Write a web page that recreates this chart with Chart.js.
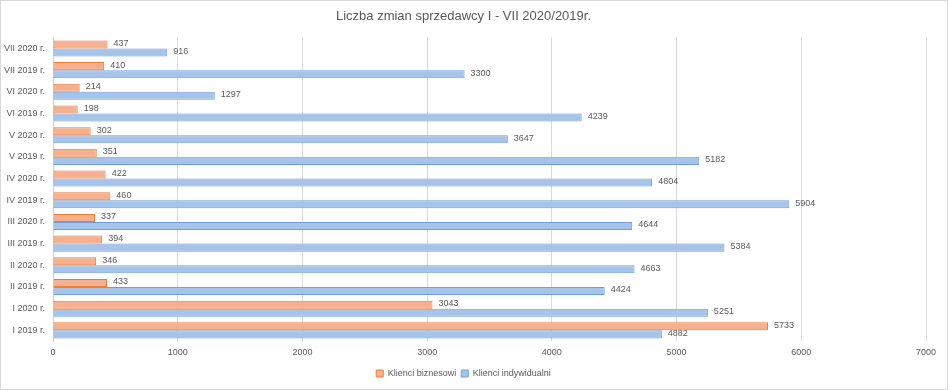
<!DOCTYPE html>
<html>
<head>
<meta charset="utf-8">
<script src="https://cdn.jsdelivr.net/npm/chart.js@4"></script>
<style>
    html, body { margin: 0; padding: 0; background: #ffffff; }
    #wrap { position: relative; width: 946px; height: 388px; border: 1px solid #d9d9d9; background: #ffffff; }
</style>
</head>
<body>
<div id="wrap"><canvas id="chart" width="946" height="388"></canvas></div>
<script>
// categories in sheet order (bottom to top on the chart)
const months = ['I 2019 r.', 'I 2020 r.', 'II 2019 r.', 'II 2020 r.', 'III 2019 r.', 'III 2020 r.',
    'IV 2019 r.', 'IV 2020 r.', 'V 2019 r.', 'V 2020 r.', 'VI 2019 r.', 'VI 2020 r.', 'VII 2019 r.', 'VII 2020 r.'];
const klienciBiznesowi = [5733, 3043, 433, 346, 394, 337, 460, 422, 351, 302, 198, 214, 410, 437];
const klienciIndywidualni = [4882, 5251, 4424, 4663, 5384, 4644, 5904, 4804, 5182, 3647, 4239, 1297, 3300, 916];
const xTicks = [0, 1000, 2000, 3000, 4000, 5000, 6000, 7000];

const textGray = '#595959';
const fontName = "'Liberation Sans', 'DejaVu Sans', sans-serif";

// value labels next to the end of each bar
const barLabels = {
    id: 'barLabels',
    afterDatasetsDraw(chart) {
        const ctx = chart.ctx;
        ctx.save();
        ctx.fillStyle = textGray;
        ctx.font = '9px ' + fontName;
        ctx.textAlign = 'left';
        ctx.textBaseline = 'middle';
        chart.data.datasets.forEach((ds, i) => {
            chart.getDatasetMeta(i).data.forEach((bar, j) => {
                ctx.fillText(String(ds.data[j]), bar.x + 6, bar.y - 1);
            });
        });
        ctx.restore();
    }
};

const ctx = document.getElementById('chart').getContext('2d');
new Chart(ctx, {
    type: 'bar',
    data: {
        labels: months,
        datasets: [
            {
                label: 'Klienci biznesowi',
                data: klienciBiznesowi,
                backgroundColor: '#f6b08f',
                borderColor: '#ed7d31',
                borderWidth: 1,
                borderSkipped: false
            },
            {
                label: 'Klienci indywidualni',
                data: klienciIndywidualni,
                backgroundColor: '#a6c3e9',
                borderColor: '#6f9fd8',
                borderWidth: 1,
                borderSkipped: false
            }
        ]
    },
    plugins: [barLabels],
    options: {
        indexAxis: 'y',
        responsive: false,
        animation: false,
        layout: { padding: { left: 0, right: 21, top: 0, bottom: 1 } },
        datasets: {
            bar: { categoryPercentage: 0.74, barPercentage: 1.0 }
        },
        scales: {
            x: {
                min: 0,
                max: 7000,
                afterBuildTicks: (axis) => { axis.ticks = xTicks.map(v => ({ value: v })); },
                grid: { color: '#d9d9d9', drawTicks: false },
                border: { display: false },
                ticks: {
                    color: textGray,
                    font: { family: fontName, size: 9 },
                    padding: 6,
                    callback: (v) => String(v)
                }
            },
            y: {
                reverse: true,
                afterFit: (axis) => { axis.width = 52; },
                grid: { display: false, drawTicks: false },
                border: { display: true, color: '#d0d0d0' },
                ticks: { color: textGray, font: { family: fontName, size: 9 }, padding: 8 }
            }
        },
        plugins: {
            title: {
                display: true,
                text: 'Liczba zmian sprzedawcy I - VII 2020/2019r.',
                color: textGray,
                font: { family: fontName, size: 13, weight: 'normal' },
                padding: { top: 8, bottom: 13 }
            },
            legend: {
                position: 'bottom',
                labels: {
                    color: textGray,
                    font: { family: fontName, size: 9 },
                    boxWidth: 7,
                    boxHeight: 7,
                    padding: 5
                }
            },
            tooltip: { enabled: false }
        }
    }
});
</script>
</body>
</html>
